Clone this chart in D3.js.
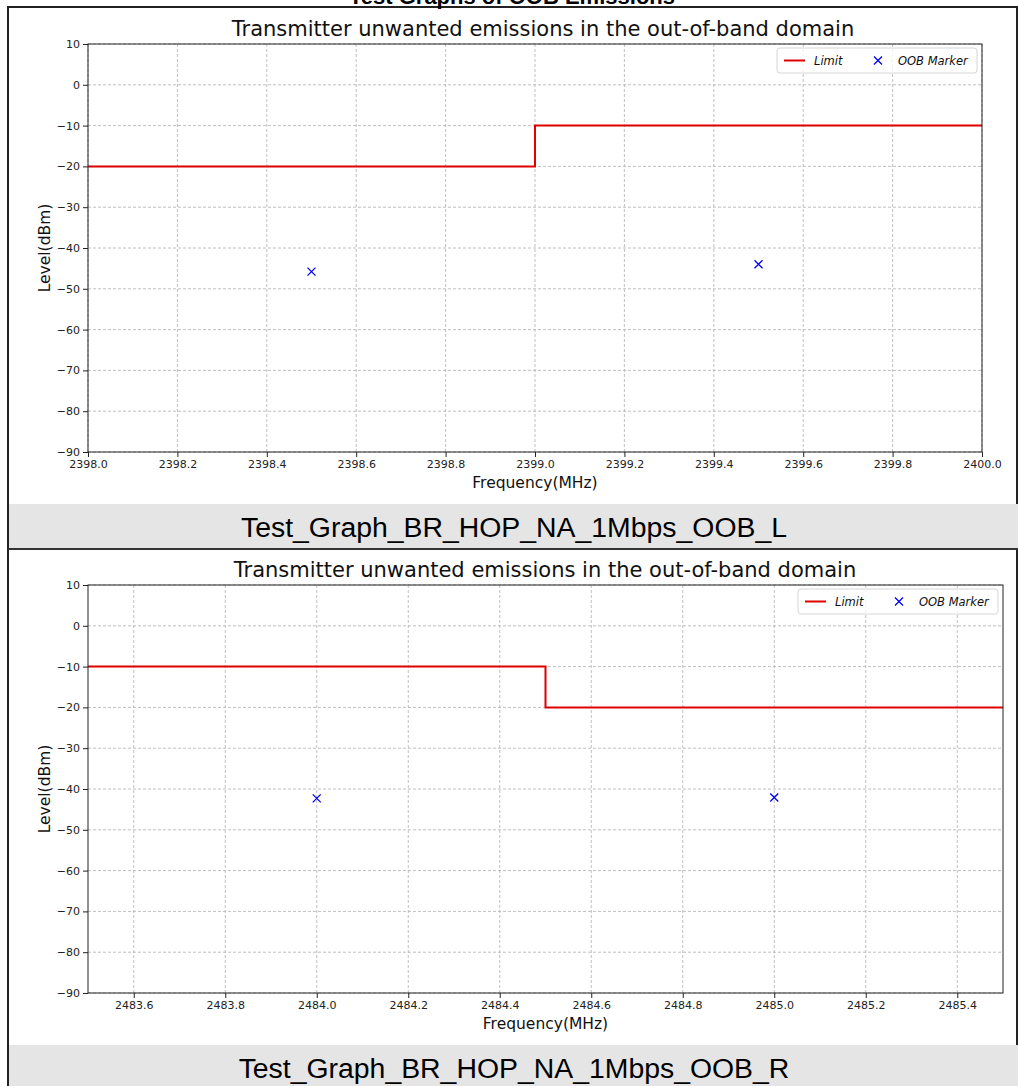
<!DOCTYPE html>
<html>
<head>
<meta charset="utf-8">
<script src="https://cdn.jsdelivr.net/npm/d3@7"></script>
<style>
  body { margin: 0; background: #fff; }
  svg { display: block; }
</style>
</head>
<body>
<div id="chart"></div>
<script>
// values
const pageTitle = "Test Graphs of OOB Emissions";
const chartTitle = "Transmitter unwanted emissions in the out-of-band domain";
const captions = ["Test_Graph_BR_HOP_NA_1Mbps_OOB_L", "Test_Graph_BR_HOP_NA_1Mbps_OOB_R"];

const xDomainL = [2398.0, 2400.0];
const xTicksL = [2398.0, 2398.2, 2398.4, 2398.6, 2398.8, 2399.0, 2399.2, 2399.4, 2399.6, 2399.8, 2400.0];
const limitFreqL = [2398.0, 2399.0, 2400.0];
const limitLevelL = [-20, -10, -10];
const markerFreqL = [2398.5, 2399.5];
const markerLevelL = [-45.8, -44.0];

const xDomainR = [2483.5, 2485.5];
const xTicksR = [2483.6, 2483.8, 2484.0, 2484.2, 2484.4, 2484.6, 2484.8, 2485.0, 2485.2, 2485.4];
const limitFreqR = [2483.5, 2484.5, 2485.5];
const limitLevelR = [-10, -20, -20];
const markerFreqR = [2484.0, 2485.0];
const markerLevelR = [-42.3, -42.1];

const yTicks = [10, 0, -10, -20, -30, -40, -50, -60, -70, -80, -90];

const W = 1018, H = 1086;
const svg = d3.select("#chart").append("svg").attr("width", W).attr("height", H);

// outer frame
svg.append("rect").attr("x", 8).attr("y", 7).attr("width", W - 9).attr("height", H)
    .attr("fill", "none").attr("stroke", "#222").attr("stroke-width", 2);

// page title sits mostly above the top edge, as in the reference
svg.append("text").attr("x", 512).attr("y", 4)
    .attr("text-anchor", "middle")
    .style("font-family", "'Liberation Sans', Arial, sans-serif")
    .style("font-weight", "bold").style("font-size", "22px")
    .text(pageTitle);

const minus = d => d < 0 ? "\u2212" + Math.abs(d) : String(d);

function drawPanel(top, xDomain, xTicks, right, titleX, limitF, limitL, markF, markL, caption) {
    const g = svg.append("g");
    const plotTop = top + 37, plotBottom = top + 445;
    const left = 88;

    const x = d3.scaleLinear().domain(xDomain).range([left, right]);
    const y = d3.scaleLinear().domain([-90, 10]).range([plotBottom, plotTop]);

    // grid
    g.append("g").selectAll("line").data(xTicks).enter().append("line")
        .attr("x1", d => x(d)).attr("x2", d => x(d))
        .attr("y1", plotTop).attr("y2", plotBottom)
        .attr("stroke", "#b0b0b0").attr("stroke-width", 0.8).attr("stroke-dasharray", "3,2");
    g.append("g").selectAll("line").data(yTicks).enter().append("line")
        .attr("x1", left).attr("x2", right)
        .attr("y1", d => y(d)).attr("y2", d => y(d))
        .attr("stroke", "#b0b0b0").attr("stroke-width", 0.8).attr("stroke-dasharray", "3,2");

    // axes
    const xAxis = g.append("g").attr("transform", `translate(0,${plotBottom})`)
        .call(d3.axisBottom(x).tickValues(xTicks).tickFormat(d3.format(".1f")).tickSize(5).tickPadding(3));
    const yAxis = g.append("g").attr("transform", `translate(${left},0)`)
        .call(d3.axisLeft(y).tickValues(yTicks).tickFormat(minus).tickSize(5).tickPadding(3));
    [xAxis, yAxis].forEach(a => {
        a.select(".domain").remove();
        a.selectAll("line").attr("stroke", "#222");
        a.selectAll("text").attr("fill", "#222")
            .style("font-family", "'DejaVu Sans', sans-serif").style("font-size", "11px");
    });

    // limit step line
    const pts = limitF.map((f, i) => [f, limitL[i]]);
    g.append("path").datum(pts)
        .attr("d", d3.line().x(d => x(d[0])).y(d => y(d[1])).curve(d3.curveStepAfter))
        .attr("fill", "none").attr("stroke", "#e00000").attr("stroke-width", 2);

    // markers
    const mk = markF.map((f, i) => [f, markL[i]]);
    g.append("g").selectAll("path").data(mk).enter().append("path")
        .attr("transform", d => `translate(${x(d[0])},${y(d[1])})`)
        .attr("d", "M-4,-4L4,4M-4,4L4,-4")
        .attr("stroke", "#0000ee").attr("stroke-width", 1.3);

    // frame
    g.append("rect").attr("x", left).attr("y", plotTop)
        .attr("width", right - left).attr("height", plotBottom - plotTop)
        .attr("fill", "none").attr("stroke", "#222").attr("stroke-width", 1);

    // titles
    const mid = (left + right) / 2;
    g.append("text").attr("x", titleX).attr("y", top + 29).attr("text-anchor", "middle")
        .style("font-family", "'DejaVu Sans', sans-serif").style("font-size", "21px")
        .attr("fill", "#111").text(chartTitle);
    g.append("text").attr("x", mid).attr("y", plotBottom + 36).attr("text-anchor", "middle")
        .style("font-family", "'DejaVu Sans', sans-serif").style("font-size", "15.5px")
        .attr("fill", "#111").text("Frequency(MHz)");
    g.append("text").attr("transform", `translate(50,${(plotTop + plotBottom) / 2}) rotate(-90)`)
        .attr("text-anchor", "middle")
        .style("font-family", "'DejaVu Sans', sans-serif").style("font-size", "15.5px")
        .attr("fill", "#111").text("Level(dBm)");

    // legend
    const lx = right - 205, ly = plotTop + 4;
    const leg = g.append("g").attr("transform", `translate(${lx},${ly})`);
    leg.append("rect").attr("width", 200).attr("height", 25).attr("rx", 3)
        .attr("fill", "#fff").attr("fill-opacity", 0.8).attr("stroke", "#d6d6d6");
    leg.append("line").attr("x1", 7).attr("x2", 28).attr("y1", 12.5).attr("y2", 12.5)
        .attr("stroke", "#e00000").attr("stroke-width", 2);
    leg.append("path").attr("transform", "translate(101,12.5)")
        .attr("d", "M-4,-4L4,4M-4,4L4,-4").attr("stroke", "#0000ee").attr("stroke-width", 1.3);
    leg.selectAll("text").data([["Limit", 37], ["OOB Marker", 121]]).enter().append("text")
        .attr("x", d => d[1]).attr("y", 16.5)
        .style("font-family", "'DejaVu Sans', sans-serif").style("font-size", "11.5px")
        .style("font-style", "italic").attr("fill", "#111").text(d => d[0]);

    // caption band
    const cTop = plotBottom + 52;
    g.append("rect").attr("x", 9).attr("y", cTop).attr("width", W - 9).attr("height", 45)
        .attr("fill", "#e5e5e5");
    g.append("line").attr("x1", 8).attr("x2", W).attr("y1", cTop + 45).attr("y2", cTop + 45)
        .attr("stroke", "#333").attr("stroke-width", 2);
    g.append("text").attr("x", 514).attr("y", cTop + 33).attr("text-anchor", "middle")
        .style("font-family", "'Liberation Sans', Arial, sans-serif").style("font-size", "28.4px")
        .attr("fill", "#000").text(caption);
}

drawPanel(7, xDomainL, xTicksL, 982, 543, limitFreqL, limitLevelL, markerFreqL, markerLevelL, captions[0]);
drawPanel(548, xDomainR, xTicksR, 1003, 545, limitFreqR, limitLevelR, markerFreqR, markerLevelR, captions[1]);
</script>
</body>
</html>
